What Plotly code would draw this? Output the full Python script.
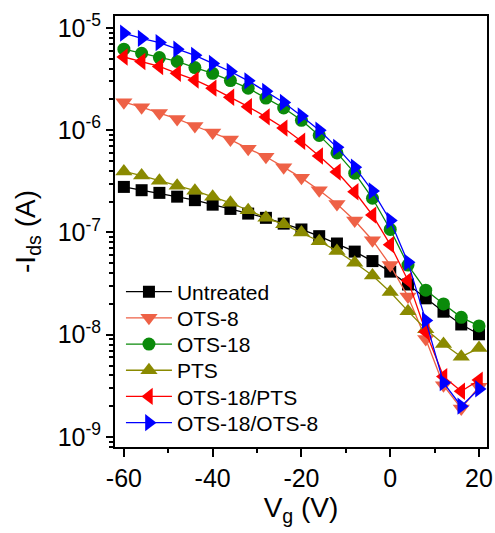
import plotly.graph_objects as go

vg = [-60, -56, -52, -48, -44, -40, -36, -32, -28, -24, -20, -16, -12, -8, -4, 0, 4, 8, 12, 16, 20]

untreated = [2.79e-7, 2.59e-7, 2.44e-7, 2.24e-7, 2.07e-7, 1.87e-7, 1.70e-7, 1.53e-7, 1.39e-7, 1.22e-7,
             1.07e-7, 9.2e-8, 7.8e-8, 6.5e-8, 5.25e-8, 4.14e-8, 3.1e-8, 2.27e-8, 1.68e-8, 1.26e-8, 1.01e-8]
ots8 = [1.88e-6, 1.68e-6, 1.47e-6, 1.29e-6, 1.10e-6, 9.5e-7, 8.1e-7, 6.6e-7, 5.5e-7, 4.35e-7,
        3.42e-7, 2.59e-7, 1.9e-7, 1.31e-7, 8.4e-8, 4.8e-8, 2.36e-8, 9.1e-9, 3.2e-9, 1.9e-9, 3.1e-9]
ots18 = [6.2e-6, 5.66e-6, 5.13e-6, 4.7e-6, 4.1e-6, 3.6e-6, 3.06e-6, 2.58e-6, 2.06e-6, 1.65e-6,
         1.25e-6, 8.9e-7, 6.0e-7, 3.8e-7, 2.16e-7, 1.07e-7, 4.8e-8, 2.73e-8, 2.0e-8, 1.48e-8, 1.22e-8]
pts = [3.95e-7, 3.6e-7, 3.21e-7, 2.87e-7, 2.56e-7, 2.23e-7, 1.95e-7, 1.65e-7, 1.39e-7, 1.2e-7,
       1.0e-7, 8.2e-8, 6.6e-8, 5.06e-8, 3.8e-8, 2.62e-8, 1.7e-8, 1.13e-8, 8.1e-9, 6.1e-9, 7.4e-9]
ots18_pts = [5.2e-6, 4.7e-6, 4.2e-6, 3.6e-6, 3.1e-6, 2.58e-6, 2.1e-6, 1.7e-6, 1.35e-6, 1.05e-6,
             7.8e-7, 5.6e-7, 3.9e-7, 2.5e-7, 1.48e-7, 7.6e-8, 3.4e-8, 1.07e-8, 3.9e-9, 2.8e-9, 3.6e-9]
ots18_ots8 = [8.9e-6, 7.9e-6, 7.2e-6, 6.2e-6, 5.4e-6, 4.5e-6, 3.75e-6, 3.04e-6, 2.4e-6, 1.87e-6,
              1.38e-6, 1.0e-6, 6.8e-7, 4.35e-7, 2.55e-7, 1.31e-7, 5.1e-8, 1.38e-8, 3.4e-9, 2.0e-9, 2.95e-9]

series_names = ["Untreated", "OTS-8", "OTS-18", "PTS", "OTS-18/PTS", "OTS-18/OTS-8"]
series_data = [untreated, ots8, ots18, pts, ots18_pts, ots18_ots8]
colors = ["#000000", "#EE6146", "#0A8A0A", "#8A8A00", "#FF0000", "#0000FF"]
symbols = ["square", "triangle-down", "circle", "triangle-up", "triangle-left", "triangle-right"]
sizes = [12, 15, 13, 15, 15, 15]

y_tickvals = [1e-9, 1e-8, 1e-7, 1e-6, 1e-5]
y_ticktext = ["10<sup>-9</sup>", "10<sup>-8</sup>", "10<sup>-7</sup>", "10<sup>-6</sup>", "10<sup>-5</sup>"]
x_tickvals = [-60, -40, -20, 0, 20]
x_ticktext = ["-60", "-40", "-20", "0", "20"]

font_family = "Arial, Liberation Sans, sans-serif"

W, H = 495, 533
M = dict(l=115, r=8, t=16, b=86)
plot_h = H - M["t"] - M["b"]

fig = go.Figure()
legend_ids = ["legend", "legend2", "legend3", "legend4", "legend5", "legend6"]
for name, ys, c, s, sz, lid in zip(series_names, series_data, colors, symbols, sizes, legend_ids):
    fig.add_trace(go.Scatter(
        x=vg, y=ys, name=name, mode="lines+markers",
        line=dict(color=c, width=1.3),
        marker=dict(color=c, symbol=s, size=sz, line=dict(width=0)),
        legend=lid,
    ))

# one single-item legend per series so the row spacing matches the reference
row0, row_step = 292, 26.2
legend_layout = {}
for i, lid in enumerate(legend_ids):
    yc = row0 + i * row_step
    legend_layout[lid] = dict(
        x=0.016, y=(H - M["b"] - yc) / plot_h, xanchor="left", yanchor="middle",
        bgcolor="rgba(0,0,0,0)", borderwidth=0,
        font=dict(size=21, family=font_family, color="black"),
        itemwidth=46,
    )

minor_y = [m * 10.0 ** e for e in range(-10, -4) for m in range(2, 10)]

fig.update_layout(
    width=W, height=H,
    margin=M,
    plot_bgcolor="white", paper_bgcolor="white",
    font=dict(family=font_family, color="black"),
    showlegend=True,
    **legend_layout,
    xaxis=dict(
        range=[-62.0, 21.8], tickvals=x_tickvals, ticktext=x_ticktext, automargin=False,
        ticks="outside", ticklen=8, tickwidth=2, tickcolor="black",
        showline=True, linecolor="black", linewidth=2, mirror=True,
        showgrid=False, zeroline=False,
        tickfont=dict(size=25),
        minor=dict(tickvals=[-50, -30, -10, 10], ticks="outside", ticklen=4, tickwidth=2,
                   tickcolor="black", showgrid=False),
        title=dict(text="V<sub>g</sub> (V)", font=dict(size=28), standoff=6),
    ),
    yaxis=dict(
        type="log", range=[-9.098, -4.883], automargin=False,
        tickvals=y_tickvals, ticktext=y_ticktext,
        ticks="outside", ticklen=7, tickwidth=2, tickcolor="black",
        showline=True, linecolor="black", linewidth=2, mirror=True,
        showgrid=False, zeroline=False,
        tickfont=dict(size=25),
        minor=dict(tickvals=minor_y, ticks="outside", ticklen=4, tickwidth=1.5,
                   tickcolor="black", showgrid=False),
        title=dict(text="-I<sub>ds</sub> (A)", font=dict(size=28), standoff=14),
    ),
)

fig.write_html("out.html", config={"displayModeBar": False},
               post_script="document.body.style.margin='0px';")
